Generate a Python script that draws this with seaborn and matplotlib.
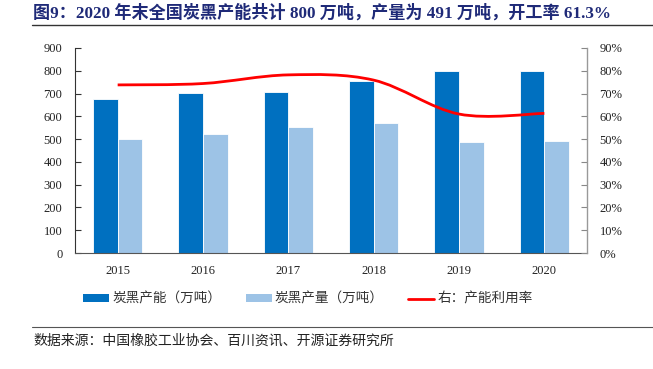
import matplotlib
matplotlib.use("Agg")
import matplotlib.pyplot as plt
import seaborn as sns
import pandas as pd
import numpy as np
from matplotlib.path import Path
from matplotlib.patches import PathPatch, Patch
from matplotlib.lines import Line2D
from matplotlib.ticker import FixedLocator

years = ["2015", "2016", "2017", "2018", "2019", "2020"]
capacity = [675, 702, 709, 754, 800, 800]
output = [500, 523, 553, 571, 488, 491]
utilization = [73.8, 74.4, 78.2, 75.9, 61.0, 61.3]
cap_label = "炭黑产能（万吨）"
out_label = "炭黑产量（万吨）"
util_label = "右：产能利用率"
title = "图9：2020 年末全国炭黑产能共计 800 万吨，产量为 491 万吨，开工率 61.3%"
source = "数据来源：中国橡胶工业协会、百川资讯、开源证券研究所"

sns.set_theme(style="white")
SERIF = ["Liberation Serif", "Noto Sans CJK SC"]
CJK = ["Noto Sans CJK SC", "DejaVu Sans"]
plt.rcParams["font.family"] = SERIF

dark = "#0070C0"
light = "#9DC3E6"
red = "#FF0000"

df = pd.DataFrame({
    "year": years * 2,
    "value": capacity + output,
    "series": [cap_label] * len(years) + [out_label] * len(years),
})

fig = plt.figure(figsize=(6.53, 3.69), dpi=100)
ax = fig.add_axes([75 / 653, 1 - 253 / 369, (587 - 75) / 653, (253 - 48) / 369])
sns.barplot(data=df, x="year", y="value", hue="series", palette=[dark, light],
            saturation=1, width=0.58, gap=0, edgecolor="white", linewidth=0.6,
            ax=ax, legend=False)
ax.set_xlim(-0.5, 5.5)
ax.set_ylim(0, 900)
ax.set_yticks(range(0, 901, 100))
ax.set_xlabel("")
ax.set_ylabel("")
for lab in ax.get_xticklabels() + ax.get_yticklabels():
    lab.set_fontfamily(SERIF)
    lab.set_fontsize(9)
    lab.set_color("#222222")
ax.tick_params(axis="x", which="major", length=0, pad=9)
ax.xaxis.set_minor_locator(FixedLocator(np.arange(-0.5, 6, 1.0)))
ax.tick_params(axis="x", which="minor", direction="in", length=4, color="#555555", width=0.8)
ax.tick_params(axis="y", direction="in", length=4, color="#333333", width=0.8, pad=9, left=True)
for s in ["top", "right"]:
    ax.spines[s].set_visible(False)
ax.spines["left"].set_color("#333333")
ax.spines["bottom"].set_color("#555555")
ax.spines["left"].set_linewidth(0.8)
ax.spines["bottom"].set_linewidth(0.8)

ax2 = ax.twinx()
ax2.set_ylim(0, 90)
ax2.set_yticks(range(0, 91, 10))
ax2.set_yticklabels([f"{v}%" for v in range(0, 91, 10)], fontsize=9, color="#222222")
ax2.tick_params(axis="y", direction="in", length=4, color="#888888", width=0.8, pad=9, right=True)
for s in ["top", "left", "bottom"]:
    ax2.spines[s].set_visible(False)
ax2.spines["right"].set_color("#999999")
ax2.spines["right"].set_linewidth(1.0)
ax2.grid(False)
ax.grid(False)

# smoothed line (Catmull-Rom as Bezier) through the data points
xs = np.arange(len(years), dtype=float)
ys = np.array(utilization, dtype=float)
P = np.column_stack([xs, ys])
verts = [tuple(P[0])]
codes = [Path.MOVETO]
n = len(P)
for i in range(n - 1):
    p0 = P[i - 1] if i > 0 else P[i]
    p1 = P[i]
    p2 = P[i + 1]
    p3 = P[i + 2] if i + 2 < n else P[i + 1]
    c1 = p1 + (p2 - p0) / 6.0
    c2 = p2 - (p3 - p1) / 6.0
    verts += [tuple(c1), tuple(c2), tuple(p2)]
    codes += [Path.CURVE4] * 3
ax2.add_patch(PathPatch(Path(verts, codes), facecolor="none", edgecolor=red, lw=2.0))

# title and rule
fig.text(33 / 653, 1 - 13 / 369, title, fontsize=12.3, fontweight="bold", color="#1F2A78",
         family=SERIF, va="center", ha="left")
fig.add_artist(Line2D([32 / 653, 1.0], [1 - 25 / 369] * 2, color="#333333", lw=1.0))

# legend
handles = [Patch(facecolor=dark, edgecolor="none"),
           Patch(facecolor=light, edgecolor="none"),
           Line2D([0], [0], color=red, lw=2.0)]
leg = fig.legend(handles, [cap_label, out_label, util_label], loc="center",
                 bbox_to_anchor=(308 / 653, 1 - 299 / 369), ncol=3, frameon=False,
                 prop={"family": CJK, "size": 9.8}, handlelength=1.9, handleheight=0.5,
                 columnspacing=1.8, handletextpad=0.25)
for t in leg.get_texts():
    t.set_color("#333333")

# footer
fig.add_artist(Line2D([32 / 653, 1.0], [1 - 327 / 369] * 2, color="#555555", lw=0.8))
fig.text(33 / 653, 1 - 341 / 369, source, fontsize=10, family=CJK, color="#222222",
         va="center", ha="left")

fig.savefig("out.png", dpi=100)
